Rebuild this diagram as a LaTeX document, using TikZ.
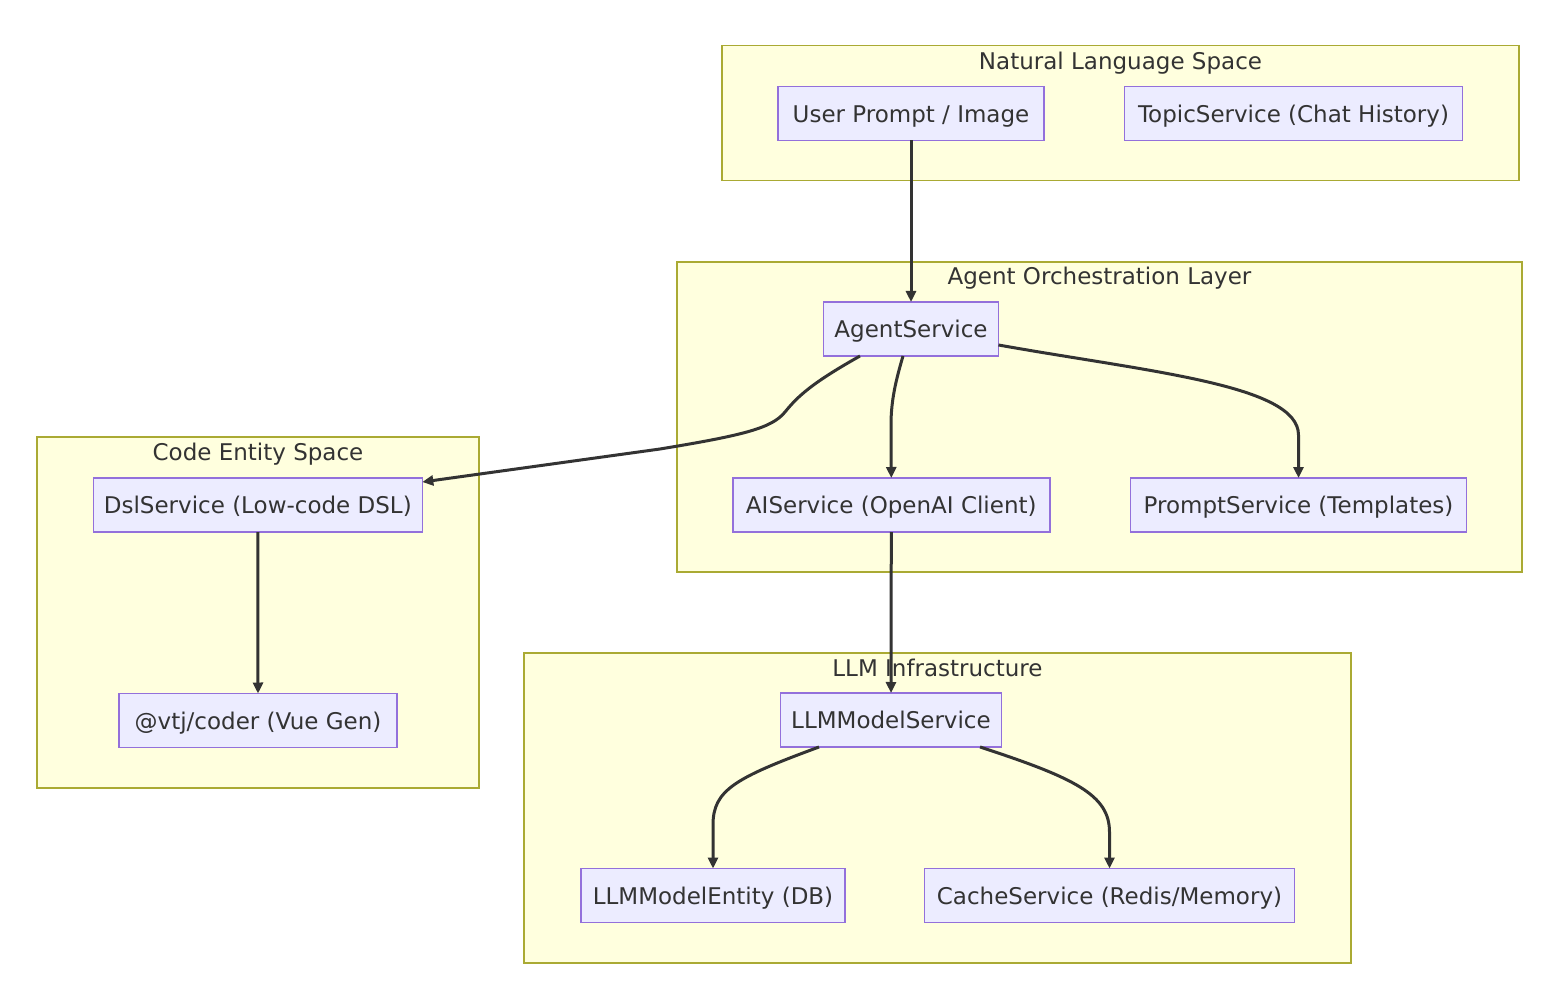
\documentclass[tikz,border=0pt]{standalone}
\usepackage{fontspec}
\setmainfont{DejaVu Sans}
\usetikzlibrary{arrows.meta}
\definecolor{clfill}{HTML}{FFFFDE}
\definecolor{clline}{HTML}{AAAA33}
\definecolor{ndfill}{HTML}{ECECFF}
\definecolor{ndline}{HTML}{9370DB}
\definecolor{txt}{HTML}{333333}
\begin{document}
\begin{tikzpicture}[x=1pt,y=-1pt,
  cluster/.style={draw=clline, fill=clfill, line width=1.5pt, inner sep=0pt, outer sep=0pt, anchor=north west},
  ctitle/.style={text=txt, font=\fontsize{23}{27}\selectfont, inner sep=0pt, anchor=base},
  box/.style={draw=ndline, fill=ndfill, line width=1.5pt, inner sep=0pt, outer sep=0pt, minimum height=54pt,
    text height=17.5pt, text depth=0pt, text=txt, font=\fontsize{23}{27}\selectfont},
  conn/.style={draw=txt, line width=3pt, -{Triangle[length=11pt,width=10pt]}}]
\useasboundingbox (0,0) rectangle (1564,1000);
\fill[white] (0,0) rectangle (1564,1000);

% clusters
\node[cluster, minimum width=797pt, minimum height=135pt] (nlc) at (722,45.5) {};
\node[cluster, minimum width=845pt, minimum height=310pt] (aoc) at (677,262) {};
\node[cluster, minimum width=442pt, minimum height=351pt] (cec) at (37,437) {};
\node[cluster, minimum width=827pt, minimum height=310pt] (llc) at (524,653) {};

\node[ctitle] (nlt) at (1120.5,69.3) {Natural Language Space};
\node[ctitle] (aot) at (1099.5,285) {Agent Orchestration Layer};
\node[ctitle] (cet) at (258,460.7) {Code Entity Space};
\node[ctitle] (llt) at (937.5,676.7) {LLM Infrastructure};

% nodes
\node[box, minimum width=266pt] (up) at (911,113.5) {User Prompt / Image};
\node[box, minimum width=338pt] (topic) at (1293.5,113.5) {TopicService (Chat History)};
\node[box, minimum width=175pt] (agent) at (911,329) {AgentService};
\node[box, minimum width=317pt] (ai) at (891.3,505) {AIService (OpenAI Client)};
\node[box, minimum width=336pt] (prompt) at (1298.5,505) {PromptService (Templates)};
\node[box, minimum width=329pt] (dsl) at (257.8,505) {DslService (Low-code DSL)};
\node[box, minimum width=278pt] (vtj) at (258,720.5) {@vtj/coder (Vue Gen)};
\node[box, minimum width=221pt] (llm) at (891,720) {LLMModelService};
\node[box, minimum width=264pt] (entity) at (713,895.5) {LLMModelEntity (DB)};
\node[box, minimum width=370pt] (cache) at (1109.5,895.5) {CacheService (Redis/Memory)};

% connectors
\draw[conn] (up.south) -- (agent.north);
\draw[conn] ([xshift=-51pt]agent.south) .. controls (812,383) and (798,396) .. (785,412)
  .. controls (772,428) and (745,435) .. (660,449) -- ([yshift=23pt]dsl.east);
\draw[conn] ([xshift=-8pt]agent.south) .. controls (896,380) and (891,400) .. (891,425) -- (ai.north);
\draw[conn] ([yshift=-16pt]agent.east) .. controls (1150,372) and (1298.5,385) .. (1298.5,435) -- (prompt.north);
\draw[conn] (ai.south) -- (llm.north);
\draw[conn] (dsl.south) -- (vtj.north);
\draw[conn] ([xshift=-72pt]llm.south) .. controls (735,778) and (713,790) .. (713,825) -- (entity.north);
\draw[conn] ([xshift=89pt]llm.south) .. controls (1075,778) and (1109.5,795) .. (1109.5,832) -- (cache.north);
\end{tikzpicture}
\end{document}
